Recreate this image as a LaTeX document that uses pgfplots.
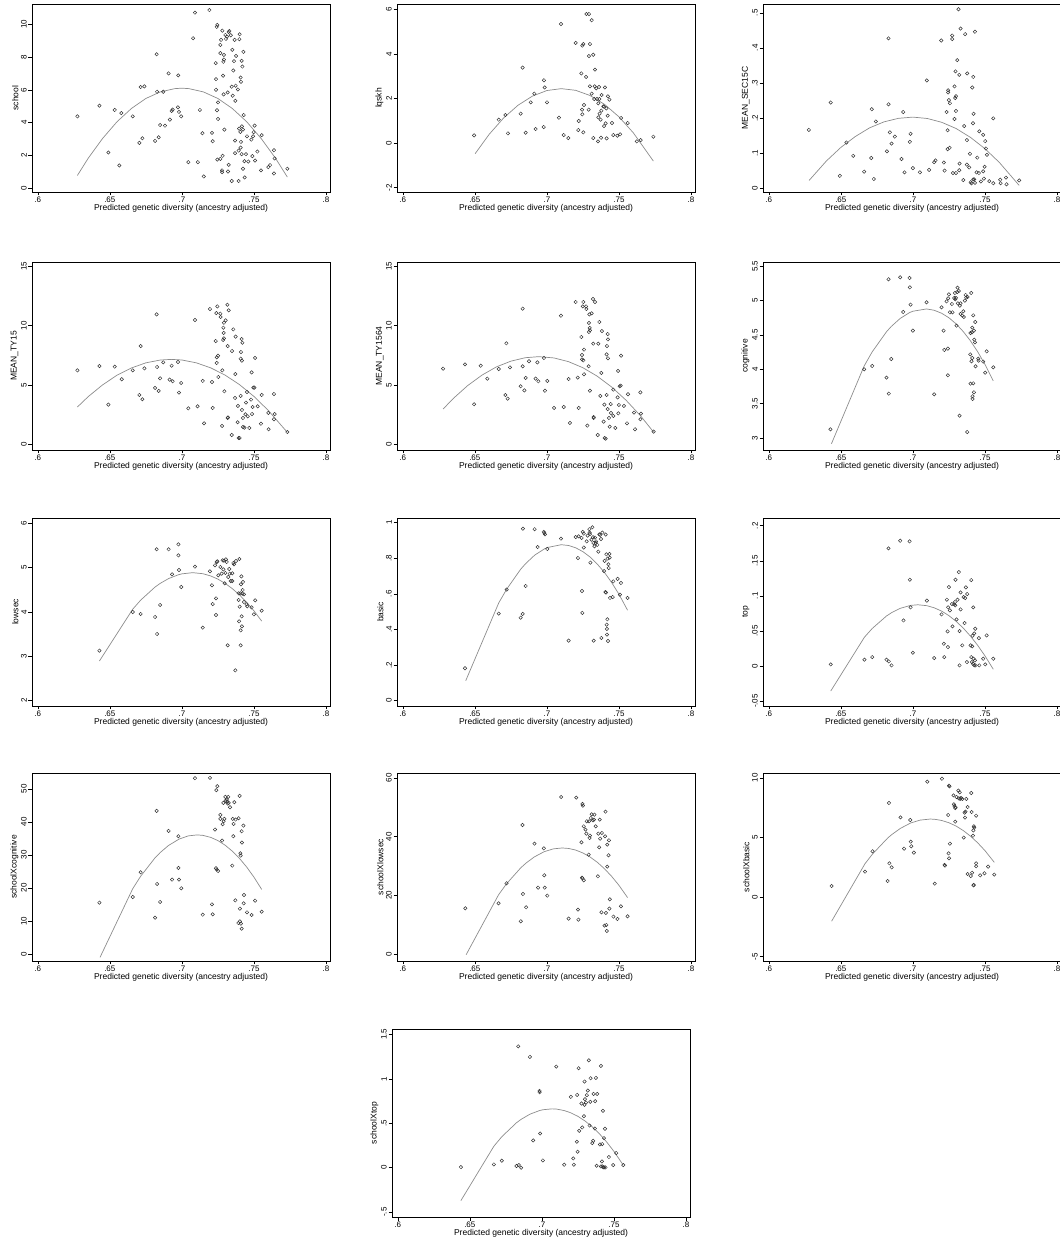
\documentclass[border=0pt]{standalone}
\usepackage{fontspec}
\setmainfont{Liberation Sans}
\usepackage{pgfplots}
\pgfplotsset{compat=1.18}

\pgfplotsset{
  panel/.style={width=298pt, height=188pt, scale only axis, anchor=north west,
    xmin=0.596, xmax=0.8028,
    xtick={0.6,0.65,0.7,0.75,0.8}, xticklabels={.6,.65,.7,.75,.8},
    tick align=outside, xtick pos=bottom, ytick pos=left,
    major tick length=3.5pt, tick style={black, line width=0.5pt},
    axis line style={black, line width=0.8pt},
    ticklabel style={font=\fontsize{8}{9}\selectfont},
    xticklabel style={inner sep=1pt},
    yticklabel style={rotate=90, anchor=south, inner sep=1.5pt},
    label style={font=\fontsize{8.5}{10}\selectfont},
    xlabel={Predicted genetic diversity (ancestry adjusted)},
    xlabel style={inner sep=1pt},
    ylabel style={inner sep=1pt},
    clip=false},
  pts/.style={only marks, mark=o, black!80, mark size=1.7pt, mark options={line width=0.5pt}},
  fit/.style={no marks, black!45, line width=0.7pt}
}

\begin{document}
\begin{tikzpicture}
\useasboundingbox (0pt,0pt) rectangle (1060pt,1243pt);

% ---- row 1 ----
\begin{axis}[panel, at={(32pt,1239pt)}, ymin=-0.24, ymax=11.24,
  ytick={0,2,4,6,8,10}, yticklabels={0,2,4,6,8,10}, ylabel={school}]
\addplot[pts] coordinates {
(.6275,4.38) (.6428,5.03) (.649,2.17) (.6534,4.77) (.6566,1.38) (.658,4.58) (.6659,4.38) (.6705,2.76)
(.6714,6.17) (.6726,3.04) (.674,6.21) (.6814,2.88) (.6825,8.17) (.6828,5.88) (.6839,3.10) (.6849,3.85)
(.6871,5.88) (.6883,3.81) (.6908,7.00) (.6917,4.18) (.6929,4.71) (.6936,4.79) (.6973,4.93) (.6975,6.88)
(.698,4.65) (.6995,4.38) (.7045,1.58) (.7078,9.15) (.7091,10.71) (.7111,1.58) (.7125,4.77) (.7143,3.35)
(.7152,0.71) (.7191,10.87) (.7209,3.37) (.7214,2.86) (.7235,7.63) (.7237,6.0) (.7237,6.65) (.7242,9.84)
(.7246,9.96) (.7244,4.75) (.7246,1.74) (.7251,4.22) (.7251,5.23) (.7267,1.78) (.7267,8.74) (.7267,8.24)
(.7272,9.05) (.7279,1.08) (.7279,0.97) (.7281,9.61) (.7283,1.97) (.7286,6.86) (.7288,7.71) (.729,5.72)
(.7292,8.13) (.7292,7.85) (.7295,3.57) (.7302,9.35) (.7306,9.11) (.7313,9.25) (.7318,5.84) (.732,1.01)
(.7325,9.53) (.7325,1.42) (.733,9.59) (.7339,9.33) (.7346,6.19) (.7346,0.43) (.735,8.44) (.7353,5.64)
(.7357,7.18) (.7362,7.75) (.7366,9.05) (.7369,2.90) (.7369,2.13) (.7373,6.25) (.7371,5.33) (.7376,8.07)
(.7389,6.02) (.7394,2.29) (.7394,0.43) (.7397,3.63) (.7399,9.09) (.7401,9.39) (.7406,3.43) (.7408,2.47)
(.7408,6.75) (.741,2.82) (.741,6.49) (.7415,7.77) (.7415,2.07) (.7417,3.77) (.742,7.42) (.7424,1.18)
(.7424,3.57) (.7427,8.32) (.7429,4.46) (.7434,1.64) (.7436,0.65) (.7445,2.07) (.7452,3.16) (.7461,1.62)
(.7482,2.96) (.7489,1.95) (.7494,3.16) (.7498,3.41) (.7505,3.81) (.7508,1.68) (.7524,2.23) (.7549,1.08)
(.7554,3.23) (.76,1.28) (.7612,1.40) (.7639,0.89) (.7639,2.31) (.7644,1.81) (.7732,1.18)};
\addplot[fit] coordinates {
(.6275,0.77) (.635,1.82) (.645,3.03) (.655,4.05) (.665,4.86) (.675,5.47) (.685,5.87) (.695,6.07)
(.700,6.10) (.705,6.07) (.715,5.87) (.725,5.47) (.735,4.86) (.745,4.05) (.755,3.03) (.765,1.82) (.7732,0.67)};
\end{axis}

\begin{axis}[panel, at={(397pt,1239pt)}, ymin=-2.2, ymax=6.25,
  ytick={-2,0,2,4,6}, yticklabels={-2,0,2,4,6}, ylabel={lqskh}]
\addplot[pts] coordinates {
(.6495,.345) (.6666,1.05) (.6712,1.26) (.673,.435) (.6818,1.32) (.6832,3.39) (.6853,.465) (.6888,1.83)
(.6913,2.22) (.6922,.63) (.6978,.72) (.698,2.82) (.6985,2.5) (.7001,1.83) (.7084,1.14) (.7098,5.35)
(.7117,.36) (.7149,.225) (.72,4.5) (.7218,.585) (.7221,.99) (.7239,3.13) (.7244,1.5) (.7246,1.29)
(.7246,4.38) (.7253,4.45) (.7253,.48) (.7258,1.71) (.7272,2.97) (.7274,5.8) (.7292,5.8) (.729,1.5)
(.7292,3.91) (.7299,2.55) (.7299,4.45) (.7311,2.22) (.7311,5.52) (.7322,.225) (.7322,3.97) (.7329,1.98)
(.7332,2.55) (.7334,3.3) (.7343,2.46) (.7348,1.98) (.7355,.075) (.7357,1.155) (.7357,1.785) (.7362,2.52)
(.7364,1.98) (.7366,1.32) (.7376,.24) (.7373,1.05) (.7378,1.455) (.738,2.16) (.7392,1.65) (.7397,.765)
(.7397,1.635) (.7403,2.5) (.7408,.885) (.7413,1.56) (.7415,.21) (.7422,1.23) (.7424,2.1) (.7434,1.95)
(.7452,.9) (.7461,.36) (.7489,.33) (.7508,.39) (.7515,1.125) (.7561,.9) (.7624,.075) (.7651,.135) (.7739,.285)};
\addplot[fit] coordinates {
(.6502,-.48) (.66,.395) (.67,1.128) (.68,1.70) (.69,2.11) (.70,2.36) (.71,2.445) (.72,2.37)
(.73,2.135) (.74,1.74) (.75,1.18) (.76,.46) (.7739,-.81)};
\end{axis}

\begin{axis}[panel, at={(763pt,1239pt)}, ymin=-0.011, ymax=0.525,
  ytick={0,.1,.2,.3,.4,.5}, yticklabels={0,.1,.2,.3,.4,.5}, ylabel={MEAN\_SEC15C}]
\addplot[pts] coordinates {
(.6278,.166) (.643,.244) (.6493,.035) (.6539,.130) (.6586,.092) (.6662,.047) (.6711,.086) (.6715,.225)
(.6729,.026) (.6743,.190) (.682,.105) (.6831,.427) (.6831,.239) (.684,.159) (.6852,.127) (.6875,.147)
(.6921,.083) (.6933,.217) (.6942,.045) (.6979,.132) (.6984,.155) (.7,.057) (.7049,.045) (.7097,.307)
(.7113,.052) (.7148,.074) (.7157,.079) (.7197,.421) (.7215,.073) (.722,.050) (.7234,.217) (.7241,.165)
(.7241,.111) (.7245,.279) (.7245,.273) (.725,.251) (.7255,.115) (.7257,.242) (.7273,.435) (.7273,.425)
(.7278,.043) (.7289,.197) (.7289,.290) (.7294,.257) (.7296,.333) (.7299,.220) (.7299,.262) (.7299,.043)
(.7308,.365) (.7317,.510) (.7322,.323) (.7322,.051) (.7324,.070) (.7331,.455) (.735,.023) (.7356,.177)
(.7363,.439) (.7375,.137) (.7377,.327) (.7375,.067) (.7391,.059) (.7396,.098) (.7401,.017) (.7407,.014)
(.7412,.287) (.7417,.185) (.7419,.317) (.7421,.212) (.7419,.025) (.7426,.025) (.7431,.446) (.7431,.015)
(.7442,.045) (.7447,.087) (.7458,.043) (.7461,.162) (.7472,.019) (.7488,.152) (.7488,.048) (.7493,.027)
(.7498,.061) (.7502,.134) (.7507,.113) (.7514,.095) (.753,.020) (.7558,.199) (.7558,.014) (.7606,.024)
(.7609,.014) (.7646,.030) (.765,.011) (.7738,.022)};
\addplot[fit] coordinates {
(.628,.022) (.64,.0775) (.65,.116) (.66,.147) (.67,.172) (.68,.189) (.69,.199) (.70,.2025)
(.71,.1986) (.72,.1877) (.73,.170) (.74,.1446) (.75,.1125) (.76,.0733) (.7738,.0076)};
\end{axis}

% ---- row 2 ----
\begin{axis}[panel, at={(32pt,981pt)}, ymin=-0.45, ymax=15.34,
  ytick={0,5,10,15}, yticklabels={0,5,10,15}, ylabel={MEAN\_TY15}]
\addplot[pts] coordinates {
(.6275,6.24) (.6428,6.6) (.649,3.36) (.6534,6.55) (.6583,5.49) (.6659,6.24) (.6705,4.17) (.6714,8.28)
(.6726,3.81) (.674,6.41) (.6814,4.76) (.6825,10.94) (.6828,6.52) (.6839,4.51) (.6849,5.57) (.6871,6.91)
(.6915,5.46) (.6929,6.63) (.6936,5.32) (.6973,6.94) (.698,4.37) (.6995,5.18) (.7045,3.05) (.7091,10.47)
(.7109,3.22) (.7145,5.35) (.7154,1.79) (.7195,11.39) (.7209,5.26) (.7214,3.08) (.7235,8.7) (.7239,11.05)
(.7242,7.33) (.7242,6.86) (.7246,11.61) (.7251,7.47) (.7253,5.68) (.7267,11.0) (.7269,10.72) (.7279,1.57)
(.7281,6.24) (.7286,8.79) (.7288,9.82) (.729,9.38) (.7292,10.24) (.7292,8.93) (.7295,4.48) (.7304,10.44)
(.7316,11.75) (.7318,2.24) (.7318,8.28) (.732,2.29) (.7325,11.28) (.7348,7.86) (.7346,.81) (.7357,9.68)
(.7369,3.92) (.7371,5.93) (.7373,9.07) (.7387,1.88) (.7389,3.25) (.7394,.56) (.7401,.56) (.7408,4.09)
(.7408,7.22) (.741,7.78) (.7415,8.87) (.7417,2.91) (.742,8.56) (.7417,7.05) (.7424,2.24) (.7424,1.48)
(.7434,1.43) (.7441,2.55) (.7445,3.53) (.7452,4.42) (.7457,2.38) (.7468,1.40) (.748,3.78) (.7484,6.07)
(.7487,2.57) (.7491,3.16) (.7496,4.79) (.7503,4.79) (.7508,7.28) (.7526,3.22) (.7549,1.76) (.7554,4.17)
(.76,2.66) (.7602,1.29) (.7639,4.25) (.7639,2.13) (.7644,2.57) (.7732,1.06)};
\addplot[fit] coordinates {
(.6275,3.16) (.635,4.03) (.645,5.02) (.655,5.83) (.665,6.44) (.675,6.87) (.685,7.105) (.6926,7.16)
(.70,7.11) (.71,6.87) (.72,6.45) (.73,5.84) (.74,5.04) (.75,4.05) (.76,2.87) (.7732,1.03)};
\end{axis}

\begin{axis}[panel, at={(397pt,981pt)}, ymin=-0.45, ymax=15.34,
  ytick={0,5,10,15}, yticklabels={0,5,10,15}, ylabel={MEAN\_TY1564}]
\addplot[pts] coordinates {
(.628,6.38) (.6432,6.74) (.6495,3.39) (.6541,6.63) (.6587,5.54) (.6666,6.35) (.6712,4.17) (.6719,8.51)
(.6728,3.86) (.6744,6.49) (.6818,4.9) (.6832,11.42) (.6832,6.58) (.6844,4.56) (.6853,5.6) (.6876,7.0)
(.6922,5.54) (.6934,6.91) (.6941,5.32) (.698,7.28) (.6987,4.53) (.7003,5.35) (.705,3.08) (.7098,10.83)
(.7117,3.16) (.7151,5.51) (.716,1.82) (.72,11.98) (.7214,5.63) (.7221,3.08) (.7239,9.04) (.7244,7.16)
(.7244,7.53) (.7249,11.61) (.7253,11.98) (.7253,7.08) (.7258,7.98) (.7258,5.91) (.7272,11.61) (.7274,11.39)
(.7281,1.6) (.729,6.58) (.7292,9.46) (.7292,10.22) (.7295,10.94) (.7297,9.8) (.7299,9.6) (.7299,4.53)
(.7311,11.03) (.732,12.23) (.7322,8.48) (.7325,2.32) (.7325,2.24) (.7334,11.98) (.7353,.81) (.7357,8.48)
(.7364,10.3) (.7371,4.09) (.7378,6.02) (.7382,9.54) (.7394,1.93) (.7399,3.36) (.7401,.56) (.7408,.5)
(.7415,4.17) (.7415,7.58) (.7417,8.28) (.7422,9.29) (.7424,8.84) (.7424,7.25) (.7422,2.99) (.7431,2.24)
(.7436,1.51) (.7443,3.41) (.7445,2.66) (.7461,2.41) (.7461,4.62) (.7475,1.4) (.7491,3.97) (.7494,6.19)
(.7496,2.63) (.75,3.33) (.7505,4.9) (.7512,4.95) (.7515,7.47) (.7535,3.25) (.7556,1.79) (.7563,4.23)
(.7605,2.69) (.7612,1.29) (.7649,4.39) (.7649,2.13) (.7653,2.6) (.7741,1.09)};
\addplot[fit] coordinates {
(.628,2.99) (.635,3.87) (.645,4.955) (.655,5.84) (.665,6.53) (.675,7.01) (.685,7.30) (.6944,7.39)
(.705,7.28) (.715,6.97) (.725,6.46) (.735,5.745) (.745,4.835) (.755,3.725) (.765,2.42) (.7741,1.05)};
\end{axis}

\begin{axis}[panel, at={(763pt,981pt)}, ymin=2.825, ymax=5.563,
  ytick={3,3.5,4,4.5,5,5.5}, yticklabels={3,3.5,4,4.5,5,5.5}, ylabel={cognitive}]
\addplot[pts] coordinates {
(.6428,3.126) (.6662,4.0) (.6718,4.049) (.6817,3.879) (.6831,5.311) (.6833,3.646) (.685,4.150) (.6933,4.835)
(.6912,5.340) (.6977,5.330) (.6979,5.194) (.6984,4.942) (.7,4.563) (.7095,4.976) (.7148,3.636) (.7199,4.903)
(.7213,4.563) (.7218,4.282) (.7234,4.990) (.7243,4.301) (.7243,3.913) (.7245,5.034) (.725,5.092) (.7257,4.830)
(.7271,4.951) (.7275,4.830) (.7287,5.039) (.7292,5.112) (.7294,5.019) (.7299,5.039) (.7303,4.636) (.7308,5.126)
(.731,5.189) (.7312,4.961) (.7319,5.141) (.7324,3.325) (.7326,4.927) (.7331,4.961) (.7331,4.806) (.7343,4.782)
(.735,4.845) (.7354,4.762) (.7361,5.0) (.7366,5.083) (.737,5.044) (.7377,3.087) (.738,5.053) (.7398,4.218)
(.74,3.791) (.74,4.529) (.7405,5.112) (.7407,4.117) (.741,4.539) (.7412,4.165) (.7412,4.607) (.7414,3.607)
(.7414,3.568) (.7419,4.786) (.7419,3.796) (.7424,3.665) (.7424,4.563) (.7426,4.432) (.7431,4.393) (.7433,4.689)
(.7435,4.044) (.7454,4.155) (.7456,4.126) (.7488,4.112) (.7502,3.951) (.7512,4.262) (.7558,4.029)};
\addplot[fit] coordinates {
(.6435,2.916) (.6662,4.049) (.6718,4.255) (.6817,4.547) (.685,4.624) (.6912,4.741) (.6977,4.826) (.7,4.846)
(.7095,4.879) (.7148,4.860) (.72,4.816) (.725,4.751) (.73,4.662) (.735,4.549) (.74,4.414) (.745,4.255)
(.75,4.073) (.7558,3.832)};
\end{axis}

% ---- row 3 ----
\begin{axis}[panel, at={(32pt,725pt)}, ymin=1.88, ymax=6.12,
  ytick={2,3,4,5,6}, yticklabels={2,3,4,5,6}, ylabel={lowsec}]
\addplot[pts] coordinates {
(.6428,3.128) (.6659,4.0) (.6714,3.955) (.6814,3.887) (.6825,5.414) (.6828,3.504) (.6849,4.158) (.6908,5.414)
(.6932,4.85) (.6976,5.526) (.6976,5.278) (.698,4.947) (.6996,4.564) (.7091,5.023) (.7145,3.647) (.7195,4.917)
(.7209,4.602) (.7214,4.180) (.723,5.053) (.7237,4.308) (.7237,3.932) (.7242,5.128) (.7246,5.143) (.7253,4.827)
(.7267,5.015) (.7276,4.865) (.7283,5.165) (.7288,4.962) (.7292,5.158) (.7297,4.647) (.7302,4.88) (.7306,5.188)
(.7311,5.128) (.7318,3.248) (.7322,4.789) (.7329,4.970) (.7332,4.865) (.7339,4.699) (.735,4.699) (.735,4.872)
(.7357,5.105) (.7362,5.075) (.7371,2.684) (.7376,5.150) (.7394,4.421) (.7394,4.271) (.7397,3.789) (.7399,5.195)
(.7401,4.120) (.7406,4.421) (.7408,3.586) (.7408,3.248) (.741,4.624) (.7413,4.804) (.7415,3.902) (.7417,3.677)
(.742,4.414) (.7422,4.496) (.7424,4.677) (.7431,4.398) (.7431,4.226) (.7449,4.173) (.7454,4.128) (.7484,4.105)
(.75,3.947) (.7509,4.263) (.7554,4.030)};
\addplot[fit] coordinates {
(.6428,2.895) (.6659,4.063) (.6714,4.267) (.6814,4.563) (.685,4.646) (.6908,4.754) (.6976,4.840) (.7,4.860)
(.7075,4.887) (.7145,4.864) (.72,4.813) (.725,4.741) (.73,4.646) (.735,4.527) (.74,4.384) (.745,4.218)
(.75,4.027) (.7554,3.795)};
\end{axis}

\begin{axis}[panel, at={(397pt,725pt)}, ymin=-0.03, ymax=1.026,
  ytick={0,.2,.4,.6,.8,1}, yticklabels={0,.2,.4,.6,.8,1}, ylabel={basic}]
\addplot[pts] coordinates {
(.6432,.182) (.6666,.489) (.6721,.624) (.6818,.466) (.6832,.487) (.6834,.966) (.6853,.644) (.6915,.963)
(.6936,.863) (.6978,.948) (.6982,.942) (.6987,.934) (.7003,.852) (.7098,.910) (.7151,.337) (.72,.919)
(.7216,.801) (.7221,.923) (.7241,.914) (.7244,.616) (.7246,.493) (.7249,.948) (.7256,.860) (.7256,.938)
(.7276,.895) (.7283,.927) (.7295,.963) (.7297,.944) (.7299,.936) (.7302,.775) (.7309,.904) (.7316,.974)
(.732,.918) (.7323,.886) (.7325,.337) (.733,.867) (.7334,.916) (.7339,.886) (.7341,.895) (.735,.875)
(.7357,.837) (.7364,.934) (.7369,.931) (.7376,.908) (.7378,.352) (.7385,.944) (.7397,.728) (.7401,.785)
(.7406,.610) (.7408,.933) (.741,.607) (.7413,.822) (.7415,.427) (.7417,.403) (.7417,.371) (.742,.457)
(.7422,.798) (.7424,.335) (.7427,.766) (.7429,.745) (.7434,.824) (.7436,.803) (.7438,.577) (.7457,.582)
(.7461,.670) (.7491,.684) (.7507,.595) (.7514,.661) (.756,.577)};
\addplot[fit] coordinates {
(.6437,.112) (.6666,.549) (.6721,.626) (.6818,.738) (.6853,.770) (.6915,.817) (.6982,.852) (.7003,.860)
(.71,.876) (.7151,.8715) (.72,.8586) (.725,.837) (.73,.8065) (.735,.767) (.74,.720) (.745,.663)
(.75,.598) (.756,.508)};
\end{axis}

\begin{axis}[panel, at={(763pt,725pt)}, ymin=-0.057, ymax=0.211,
  ytick={-.05,0,.05,.1,.15,.2}, yticklabels={-.05,0,.05,.1,.15,.2}, ylabel={top}]
\addplot[pts] coordinates {
(.643,.0023) (.6664,.0090) (.6718,.0127) (.6817,.0090) (.6831,.1677) (.6833,.0066) (.6852,.0009) (.6912,.1786)
(.6935,.0650) (.6977,.1777) (.6979,.1230) (.6984,.0836) (.7,.0189) (.7097,.0932) (.7148,.0113) (.7199,.0736)
(.7218,.0127) (.7215,.0317) (.7236,.0945) (.7241,.0493) (.7243,.0270) (.725,.1125) (.7245,.0836) (.7257,.0793)
(.7271,.0883) (.7275,.0565) (.7287,.0878) (.7292,.0912) (.7294,.0864) (.7296,.1230) (.7303,.0664) (.731,.0945)
(.7319,.1339) (.7324,.0498) (.7324,.0009) (.7331,.1049) (.7331,.0807) (.7343,.0294) (.7352,.0983) (.7359,.0612)
(.7363,.0969) (.7368,.1121) (.7377,.1026) (.7375,.0056) (.7401,.0294) (.7405,.1225) (.7405,.0127) (.741,.0056)
(.7412,.0280) (.7414,.0432) (.7417,.0032) (.7419,.0836) (.7421,.0104) (.7426,.0465) (.7426,.0009) (.7431,.0080)
(.7433,.0531) (.7435,.0009) (.7458,.0398) (.7461,.0009) (.7488,.0104) (.7502,.0023) (.7512,.0436) (.7558,.0104)};
\addplot[fit] coordinates {
(.643,-.0357) (.6664,.0411) (.6718,.0535) (.6817,.0713) (.6852,.076) (.6912,.0822) (.6984,.0864) (.7035,.0873)
(.7097,.086) (.7148,.083) (.72,.0782) (.725,.0718) (.73,.0637) (.735,.054) (.74,.0425) (.745,.0294)
(.75,.0146) (.7558,-.0046)};
\end{axis}

% ---- row 4 ----
\begin{axis}[panel, at={(32pt,470pt)}, ymin=-2.1, ymax=54.8,
  ytick={0,10,20,30,40,50}, yticklabels={0,10,20,30,40,50}, ylabel={schoolXcognitive}]
\addplot[pts] coordinates {
(.6428,15.56) (.6659,17.27) (.6714,24.75) (.6814,11.01) (.6825,43.33) (.6828,21.21) (.6849,15.76) (.6908,37.27)
(.6932,22.53) (.6976,26.06) (.6976,35.66) (.698,22.53) (.6996,19.9) (.7091,53.23) (.7145,11.92) (.7195,53.33)
(.7209,15.05) (.7214,12.02) (.723,37.68) (.7237,25.96) (.7239,49.6) (.7242,25.56) (.7246,50.81) (.7251,25.15)
(.7267,42.12) (.7267,40.91) (.7279,34.34) (.7283,39.29) (.7288,45.76) (.729,40.2) (.7295,40.91) (.7302,47.58)
(.7304,46.36) (.7311,46.77) (.7316,46.16) (.7318,45.56) (.7322,47.58) (.7325,45.76) (.7334,44.44) (.735,26.77)
(.7353,40.91) (.7357,35.66) (.7359,39.39) (.7364,45.96) (.7371,16.26) (.7373,40.71) (.7392,9.39) (.7394,41.11)
(.7401,47.88) (.7403,9.9) (.7403,13.74) (.7406,30.51) (.7408,29.8) (.741,9.19) (.7415,7.68) (.7415,37.17)
(.7417,33.74) (.7427,38.89) (.7429,15.35) (.7431,17.88) (.7452,12.63) (.7484,11.82) (.7508,16.16) (.7554,12.83)};
\addplot[fit] coordinates {
(.6432,-1.0) (.6659,19.78) (.6714,23.55) (.6814,29.13) (.685,30.74) (.6908,32.88) (.698,34.78) (.7045,35.77)
(.7105,36.06) (.7145,35.93) (.72,35.32) (.725,34.34) (.73,32.95) (.735,31.15) (.74,28.94) (.745,26.32)
(.75,23.29) (.7554,19.57)};
\end{axis}

\begin{axis}[panel, at={(397pt,470pt)}, ymin=-2.4, ymax=61.7,
  ytick={0,20,40,60}, yticklabels={0,20,40,60}, ylabel={schoolXlowsec}]
\addplot[pts] coordinates {
(.6434,15.57) (.6665,17.27) (.672,24.09) (.6819,11.14) (.6831,43.98) (.6834,20.45) (.6856,15.91) (.6914,37.61)
(.6939,22.61) (.6979,36.02) (.6982,26.82) (.6985,22.61) (.7003,19.89) (.7099,53.52) (.7151,12.05) (.7204,53.3)
(.7216,15.11) (.7219,11.7) (.724,38.07) (.7247,51.14) (.725,50.57) (.7244,26.02) (.7247,25.8) (.7256,25.11)
(.7256,43.52) (.7268,42.39) (.7274,41.02) (.7277,45.23) (.729,33.86) (.7293,45.23) (.7296,39.55) (.7299,40.34)
(.7305,46.36) (.7311,47.61) (.732,45.57) (.7327,45.8) (.733,47.5) (.7339,43.52) (.7354,26.48) (.7357,41.02)
(.7363,36.36) (.7367,45.8) (.737,39.32) (.7379,14.2) (.7382,41.25) (.74,9.66) (.7404,40.11) (.7407,48.52)
(.741,13.98) (.7413,9.89) (.7416,7.84) (.7419,29.77) (.7419,37.27) (.7428,33.64) (.7431,38.75) (.7434,15.45)
(.7437,18.64) (.7462,12.73) (.749,11.93) (.7514,16.25) (.756,12.84)};
\addplot[fit] coordinates {
(.644,-.24) (.6665,20.19) (.672,23.92) (.6819,29.38) (.6856,31.01) (.6914,33.12) (.6982,34.88) (.7045,35.83)
(.7106,36.14) (.7151,35.97) (.72,35.42) (.725,34.44) (.73,33.05) (.735,31.26) (.74,29.05) (.745,26.43)
(.75,23.41) (.756,19.23)};
\end{axis}

\begin{axis}[panel, at={(763pt,470pt)}, ymin=-5.38, ymax=10.42,
  ytick={-5,0,5,10}, yticklabels={-5,0,5,10}, ylabel={schoolXbasic}]
\addplot[pts] coordinates {
(.6436,.92) (.6668,2.13) (.672,3.84) (.6825,1.34) (.6834,7.9) (.6837,2.83) (.6853,2.49) (.6914,6.69)
(.6939,4.06) (.6982,6.47) (.6985,4.65) (.6989,4.26) (.7007,3.73) (.71,9.69) (.7152,1.12) (.7202,9.94)
(.722,2.69) (.7223,2.63) (.7245,6.89) (.7248,3.67) (.7251,9.36) (.7254,9.3) (.7251,3.25) (.7257,4.48)
(.7282,8.54) (.7285,7.79) (.7288,7.65) (.7294,6.33) (.7294,7.48) (.7297,7.54) (.7303,8.4) (.7316,8.94)
(.7319,8.29) (.7325,8.8) (.7328,8.24) (.7334,8.32) (.7343,8.24) (.7353,4.99) (.7359,7.09) (.7362,6.67)
(.7365,7.17) (.7371,8.24) (.738,1.93) (.738,7.56) (.7402,1.76) (.7405,8.74) (.7408,7.14) (.7411,2.04)
(.7417,5.15) (.742,5.6) (.7423,5.94) (.7423,1.01) (.742,.98) (.7426,5.83) (.7439,2.83) (.7439,2.58)
(.7439,6.83) (.7467,1.82) (.7497,1.99) (.7522,2.55) (.7565,1.88)};
\addplot[fit] coordinates {
(.6436,-2.04) (.6668,2.80) (.672,3.61) (.6825,4.95) (.6853,5.24) (.6914,5.77) (.6985,6.22) (.705,6.46)
(.712,6.55) (.7152,6.53) (.72,6.43) (.725,6.24) (.73,5.96) (.735,5.58) (.74,5.11) (.745,4.55)
(.75,3.90) (.7565,2.91)};
\end{axis}

% ---- row 5 ----
\begin{axis}[panel, at={(392pt,214pt)}, ymin=-0.554, ymax=1.56,
  ytick={-.5,0,.5,1,1.5}, yticklabels={-.5,0,.5,1,1.5}, ylabel={schoolXtop}]
\addplot[pts] coordinates {
(.6438,.0075) (.6667,.037) (.6722,.079) (.6824,.019) (.6836,1.365) (.684,.030) (.6856,0) (.6917,1.246)
(.694,.307) (.6984,.864) (.6984,.849) (.6988,.385) (.7007,.082) (.71,1.137) (.7155,.034) (.7201,.797)
(.7218,.105) (.7222,.034) (.7243,.292) (.7245,.819) (.7248,.180) (.7255,1.119) (.7259,.415) (.7275,.722)
(.728,.453) (.7292,.580) (.7296,.969) (.7296,.707) (.7299,.771) (.7306,.733) (.7312,.816) (.7319,.868)
(.7326,1.208) (.7331,.475) (.7336,.741) (.7338,1.006) (.735,.277) (.7356,.303) (.7359,.830) (.7368,.441)
(.737,.748) (.7375,1.01) (.738,.022) (.7384,.830) (.7403,.262) (.741,1.145) (.741,.015) (.7417,.071)
(.7419,.266) (.7421,.015) (.7424,.640) (.7426,.004) (.7431,.333) (.7433,.004) (.7438,.438) (.7442,.004)
(.7465,.12) (.7495,.03) (.7516,.165) (.7565,.03)};
\addplot[fit] coordinates {
(.6438,-.37) (.6667,.242) (.6722,.349) (.6824,.506) (.6856,.544) (.6917,.602) (.6984,.643) (.7007,.652)
(.707,.662) (.71,.660) (.7155,.643) (.72,.618) (.725,.578) (.73,.525) (.735,.459) (.74,.381)
(.745,.289) (.75,.184) (.7563,.034)};
\end{axis}
\end{tikzpicture}
\end{document}
